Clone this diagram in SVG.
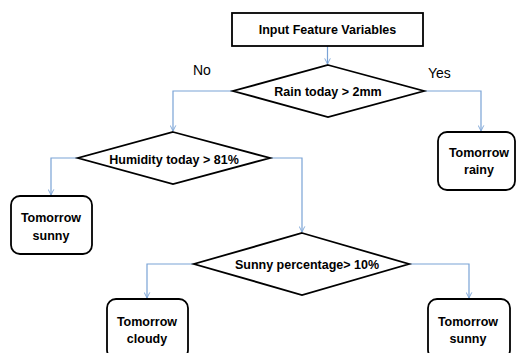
<svg xmlns="http://www.w3.org/2000/svg" width="517" height="353" viewBox="0 0 517 353">
  <defs>
    <marker id="arrow" viewBox="0 0 10 10" refX="9" refY="5" markerWidth="7" markerHeight="7" markerUnits="userSpaceOnUse" orient="auto">
      <path d="M1,1 L9,5 L1,9" fill="none" stroke="#7aa3d6" stroke-width="1.3"/>
    </marker>
  </defs>
  <style>
    .box { fill: #ffffff; stroke: #000000; stroke-width: 1.8; }
    .dec { fill: #ffffff; stroke: #000000; stroke-width: 1.8; stroke-linejoin: miter; }
    .lbl { font-family: "Liberation Sans", Arial, sans-serif; font-size: 12.5px; font-weight: bold; fill: #000000; text-anchor: middle; }
    .ans { font-family: "Liberation Sans", Arial, sans-serif; font-size: 14px; fill: #000000; }
    .link { fill: none; stroke: #7aa3d6; stroke-width: 1.2; marker-end: url(#arrow); }
  </style>
  <rect width="517" height="353" fill="#ffffff"/>

  <g id="connectors">
    <path class="link" d="M327.5,46 V64"/>
    <path class="link" d="M233,91 H173 V131"/>
    <path class="link" d="M424,91 H481 V131"/>
    <path class="link" d="M78,158 H51 V195"/>
    <path class="link" d="M270,158 H302 V232"/>
    <path class="link" d="M194,264 H147 V298"/>
    <path class="link" d="M409,264 H469 V298"/>
  </g>

  <g id="input">
    <rect class="box" x="232" y="13" width="191" height="33"/>
    <text class="lbl" x="327.5" y="34">Input Feature Variables</text>
  </g>

  <g id="rain">
    <polygon class="dec" points="328,65 424,91 328,117 233,91"/>
    <text class="lbl" x="328" y="96">Rain today &gt; 2mm</text>
  </g>

  <g id="label-no">
    <text class="ans" x="193" y="75">No</text>
  </g>
  <g id="label-yes">
    <text class="ans" x="428" y="78">Yes</text>
  </g>

  <g id="rainy">
    <rect class="box" x="438" y="132" width="77" height="58" rx="9" ry="9"/>
    <text class="lbl" x="479" y="157">Tomorrow</text>
    <text class="lbl" x="479" y="174">rainy</text>
  </g>

  <g id="humidity">
    <polygon class="dec" points="173,132 270,158 173,184 78,158"/>
    <text class="lbl" x="174" y="164">Humidity today &gt; 81%</text>
  </g>

  <g id="sunny-left">
    <rect class="box" x="11" y="196" width="81" height="58" rx="9" ry="9"/>
    <text class="lbl" x="51" y="222">Tomorrow</text>
    <text class="lbl" x="51" y="240">sunny</text>
  </g>

  <g id="sunshine">
    <polygon class="dec" points="302,233 409,264 302,295 194,264"/>
    <text class="lbl" x="307" y="269">Sunny percentage&gt; 10%</text>
  </g>

  <g id="cloudy">
    <rect class="box" x="107" y="299" width="81" height="60" rx="9" ry="9"/>
    <text class="lbl" x="147" y="326">Tomorrow</text>
    <text class="lbl" x="147" y="343">cloudy</text>
  </g>

  <g id="sunny-right">
    <rect class="box" x="428" y="299" width="82" height="60" rx="9" ry="9"/>
    <text class="lbl" x="468" y="326">Tomorrow</text>
    <text class="lbl" x="468" y="343">sunny</text>
  </g>
</svg>
